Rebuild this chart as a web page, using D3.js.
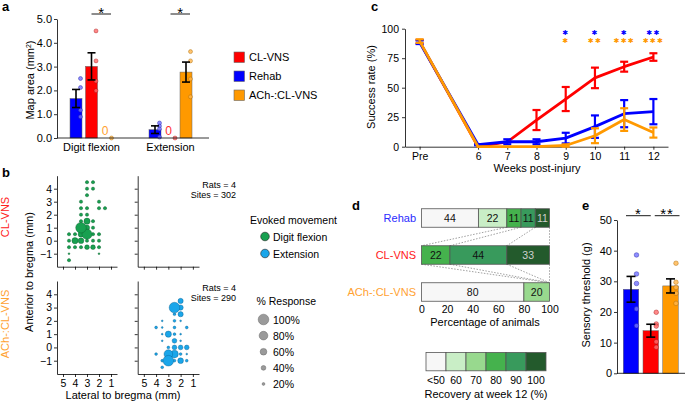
<!DOCTYPE html>
<html><head><meta charset="utf-8">
<script src="https://cdn.jsdelivr.net/npm/d3@7"></script>
<style>
body{margin:0;background:#fff}
svg{font-family:"Liberation Sans",Arial,Helvetica,sans-serif}
</style></head><body>
<svg id="c" width="685" height="402"></svg>
<script>
// ---------------- DATA ----------------
// panel a
const groupsA = ["Digit flexion", "Extension"];
const seriesA = ["Rehab", "CL-VNS", "ACh-:CL-VNS"];
const legendA = ["CL-VNS", "Rehab", "ACh-:CL-VNS"];
const mapMeanRehab = [1.66, 0.35], mapSemRehab = [0.38, 0.16];
const mapMeanClvns = [3.01, 0], mapSemClvns = [0.57, 0];
const mapMeanAch = [0, 2.77], mapSemAch = [0, 0.42];
const mapPtsRehab = [[2.5, 2.12, 1.17, 0.89], [0.63, 0.5, 0.38, 0.04]];
const mapPtsClvns = [[4.5, 3.24, 2.39, 1.99], [0]];
const mapPtsAch = [[0], [3.63, 3.24, 2.48, 1.73]];
const mapTicks = [0, 1, 2, 3, 4, 5];
const mapSig = ["*", "*"];

// panel b  [lateral mm, anterior mm, % response]
const flexClvns = [
  [3.0,4.5,25],[2.5,4.5,25],[3.0,4.0,25],[2.5,4.0,25],[3.0,3.5,25],
  [3.5,3.0,25],[2.0,3.0,25],[3.5,2.5,25],[3.0,2.5,25],[2.0,2.5,25],[1.5,2.5,25],
  [3.5,2.0,25],[3.0,2.0,25],[3.5,1.5,25],[3.0,1.5,55],[2.5,1.5,25],
  [3.5,1.0,100],[3.0,1.0,45],[2.5,1.0,25],
  [4.5,0.5,25],[4.0,0.5,25],[3.5,0.5,50],[3.0,0.5,95],[2.5,0.5,25],[2.0,0.5,25],
  [4.5,0,25],[4.0,0,55],[3.5,0,50],[3.0,0,25],[2.5,0,25],[2.0,0,25],
  [4.5,-0.5,25],[4.0,-0.5,25],[3.5,-0.5,25],[3.0,-0.5,40],[2.5,-0.5,40],[2.0,-0.5,25],
  [4.5,-1,10],[2.0,-1,10],[4.5,-1.5,25]
];
const extAch = [
  [2.0,3.5,45],[2.5,3.0,100],[2.0,3.0,45],[2.5,2.5,20],[2.0,2.5,45],
  [3.5,2.0,10],[2.5,2.0,20],[2.0,2.0,10],
  [4.0,1.5,20],[3.5,1.5,10],[2.5,1.5,20],[1.5,1.5,20],
  [3.5,1.0,10],[3.0,1.0,55],[2.5,1.0,20],[2.0,1.0,10],
  [3.5,0.5,10],[2.5,0.5,40],[2.0,0.5,10],
  [3.0,0,20],[2.5,0,40],[2.0,0,40],[1.5,0,40],
  [4.0,-0.5,20],[3.0,-0.5,80],[2.5,-0.5,70],[2.0,-0.5,20],[1.5,-0.5,10],
  [3.5,-1,20],[3.0,-1,100],[2.5,-1,20],[2.0,-1,50],[1.5,-1,20],
  [3.5,-1.5,20]
];
const latTicks = [5, 4, 3, 2, 1];
const antTicks = [-1, 0, 1, 2, 3, 4];
const respLevels = [100, 80, 60, 40, 20];
const moveTypes = ["Digit flexion", "Extension"];

// panel c
const weekPos = [4, 6, 7, 8, 9, 10, 11, 12];
const weekLabels = ["Pre", "6", "7", "8", "9", "10", "11", "12"];
const sucClvns = [89, 0, 4, 22.6, 40.4, 58.3, 67.8, 76];
const sucClvnsSem = [1.5, 0, 0, 8.5, 10.2, 8.7, 4.2, 3.2];
const sucRehab = [88.5, 1.7, 4.2, 4.2, 7.3, 17, 28, 29.7];
const sucRehabSem = [1.5, 0.5, 2.1, 2.1, 4.5, 9.5, 11.5, 10.7];
const sucAch = [89.5, 0, 0, 0, 1, 9.3, 23, 12];
const sucAchSem = [1.5, 0, 0, 0, 1, 6.3, 9.6, 4.3];
const sucTicks = [0, 25, 50, 75, 100];
const sigRehab = ["", "", "", "", "✱", "✱", "✱", "✱✱"];
const sigAch = ["", "", "", "", "✱", "✱✱", "✱✱✱", "✱✱✱"];

// panel d
const recCats = ["<50", "60", "70", "80", "90", "100"];
const recColors = ["#f7f7f7", "#c9eec6", "#98d98e", "#45b24d", "#389a5c", "#235a2c"];
const recTextColors = ["#111", "#111", "#111", "#111", "#111", "#cfcfcf"];
const groupsD = ["Rehab", "CL-VNS", "ACh-:CL-VNS"];
const pctRehab = [44.4, 22.2, 0, 11.1, 11.1, 11.1];
const pctClvns = [0, 0, 0, 22.2, 44.4, 33.3];
const pctAch = [80, 0, 20, 0, 0, 0];
const pctTicks = [0, 20, 40, 60, 80, 100];
const linkCats = ["80", "90", "100"];

// panel e
const sensGroups = ["Rehab", "CL-VNS", "ACh-:CL-VNS"];
const sensMean = [27.4, 13.9, 28.5];
const sensSem = [4.2, 2.1, 2.3];
const sensPtsRehab = [38.6, 32.4, 29.3, 21, 15.5];
const sensPtsClvns = [19.9, 16.1, 15.4, 10.3, 8.5];
const sensPtsAch = [35.9, 29.7, 28, 26.1, 22.8];
const sensTicks = [0, 10, 20, 30, 40, 50];
const sensSig = ["*", "**"];

// ---------------- STYLE ----------------
const FONT = "'Liberation Sans', Arial, Helvetica, sans-serif";
const col = {"Rehab": "#0000ff", "CL-VNS": "#ff0000", "ACh-:CL-VNS": "#ff9900"};
const dotFill = {"Rehab": "#7070ff", "CL-VNS": "#ff6a6a", "ACh-:CL-VNS": "#ffb44a"};
const dotStroke = {"Rehab": "#1a1aa0", "CL-VNS": "#a01010", "ACh-:CL-VNS": "#a56400"};
const labCol = {"Rehab": "#2b2bff", "CL-VNS": "#ff2020", "ACh-:CL-VNS": "#ffa232"};

const svg = d3.select("#c");
function styleAxis(g, fs) {
  g.selectAll("text").attr("font-size", fs).attr("font-family", FONT).attr("fill", "#000");
  g.selectAll("line,path").attr("stroke", "#000").attr("stroke-width", 0.8);
}
function txt(x, y, s, o = {}) {
  const t = svg.append("text").attr("x", x).attr("y", y).text(s)
    .attr("font-size", o.fs || 11).attr("fill", o.fill || "#000")
    .attr("text-anchor", o.anchor || "start").attr("font-family", o.family || FONT);
  if (o.bold) t.attr("font-weight", "bold");
  if (o.rot) t.attr("transform", `rotate(-90,${x},${y})`);
  return t;
}
function errBar(g, x, y0, y1, cap, color, w) {
  g.append("line").attr("x1", x).attr("x2", x).attr("y1", y0).attr("y2", y1).attr("stroke", color).attr("stroke-width", w);
  [y0, y1].forEach(y => g.append("line").attr("x1", x - cap).attr("x2", x + cap).attr("y1", y).attr("y2", y).attr("stroke", color).attr("stroke-width", w));
}

// panel letters
txt(2, 11, "a", {fs: 13, bold: true});
txt(2, 177, "b", {fs: 13, bold: true});
txt(371, 11, "c", {fs: 13, bold: true});
txt(352, 210, "d", {fs: 13, bold: true});
txt(582, 210, "e", {fs: 13, bold: true});

// ================= PANEL A =================
{
  const yA = d3.scaleLinear().domain([0, 5]).range([138, 19]);
  const xA = d3.scalePoint().domain(groupsA).range([91.5, 170.5]);
  const xIn = d3.scalePoint().domain(seriesA).range([-15.5, 15.5]);
  const bw = 12;
  const means = [mapMeanRehab, mapMeanClvns, mapMeanAch];
  const sems = [mapSemRehab, mapSemClvns, mapSemAch];
  const pts = [mapPtsRehab, mapPtsClvns, mapPtsAch];
  const g = svg.append("g");
  seriesA.forEach((s, si) => {
    groupsA.forEach((grp, gi) => {
      const cx = xA(grp) + xIn(s);
      const m = means[si][gi];
      if (m > 0) {
        g.append("rect").attr("x", cx - bw / 2).attr("y", yA(m)).attr("width", bw).attr("height", yA(0) - yA(m))
          .attr("fill", col[s]).attr("stroke", "#666").attr("stroke-width", 0.5);
      } else {
        txt(cx - 2, 135, "0", {fs: 12, anchor: "middle", fill: s === "ACh-:CL-VNS" ? "#ffa232" : "#ff3030"});
      }
    });
  });
  seriesA.forEach((s, si) => {
    groupsA.forEach((grp, gi) => {
      const cx = xA(grp) + xIn(s) + 4.5;
      pts[si][gi].forEach(v => {
        g.append("circle").attr("cx", cx).attr("cy", yA(v)).attr("r", 2)
          .attr("fill", dotFill[s]).attr("fill-opacity", 0.8).attr("stroke", dotStroke[s]).attr("stroke-width", 0.6).attr("stroke-opacity", 0.7);
      });
    });
  });
  seriesA.forEach((s, si) => {
    groupsA.forEach((grp, gi) => {
      const m = means[si][gi];
      if (m > 0) errBar(g, xA(grp) + xIn(s), yA(m + sems[si][gi]), yA(m - sems[si][gi]), 4, "#000", 1.6);
    });
  });
  const ax = g.append("g").attr("transform", "translate(57,0)")
    .call(d3.axisLeft(yA).tickValues(mapTicks).tickSize(3).tickSizeOuter(0).tickPadding(2));
  styleAxis(ax, 11);
  g.append("line").attr("x1", 57).attr("x2", 209).attr("y1", yA(0)).attr("y2", yA(0)).attr("stroke", "#000").attr("stroke-width", 0.8);
  groupsA.forEach((grp, gi) => {
    txt(xA(grp), 151, grp, {fs: 11, anchor: "middle"});
    const x1 = xA(grp) + xIn("CL-VNS"), x2 = xA(grp) + xIn("ACh-:CL-VNS") + 4;
    g.append("line").attr("x1", x1).attr("x2", x2).attr("y1", 14).attr("y2", 14).attr("stroke", "#000").attr("stroke-width", 0.9);
    txt((x1 + x2) / 2, 17.5, mapSig[gi], {fs: 15, anchor: "middle"});
  });
  const yl = txt(34, 80, "Map area (mm", {fs: 11, anchor: "middle", rot: true});
  yl.append("tspan").attr("baseline-shift", "super").attr("font-size", 7).text("2");
  yl.append("tspan").text(")");
  const ly = d3.scalePoint().domain(legendA).range([52, 90]);
  legendA.forEach(s => {
    g.append("rect").attr("x", 234).attr("y", ly(s)).attr("width", 10.5).attr("height", 10.5)
      .attr("fill", col[s]).attr("stroke", "#666").attr("stroke-width", 0.6);
    txt(249, ly(s) + 9, s, {fs: 11});
  });
}

// ================= PANEL B =================
{
  const rScale = d3.scaleLinear().domain([0, 100]).range([0.4, 5.3]);
  const plots = [
    {x: [57, 117], y: [266.7, 175.7], data: flexClvns, fill: "#18a050", stroke: "#0a5a2a", xl: false, yl: true},
    {x: [137.7, 199], y: [266.7, 175.7], data: [], xl: false, yl: false},
    {x: [57, 117], y: [374, 281], data: [], xl: true, yl: true},
    {x: [137.7, 199], y: [374, 281], data: extAch, fill: "#1aa6ea", stroke: "#0b5c88", xl: true, yl: false}
  ];
  plots.forEach(p => {
    const xs = d3.scaleLinear().domain([5.5, 0.5]).range(p.x);
    const ys = d3.scaleLinear().domain([-2, 5]).range(p.y);
    const g = svg.append("g");
    const ax = g.append("g").attr("transform", `translate(0,${p.y[0]})`)
      .call(d3.axisBottom(xs).tickValues(latTicks).tickSize(3).tickSizeOuter(0).tickPadding(3)
        .tickFormat(p.xl ? d3.format("d") : () => ""));
    styleAxis(ax, 10.5);
    const ay = g.append("g").attr("transform", `translate(${p.x[0]},0)`)
      .call(d3.axisLeft(ys).tickValues(antTicks).tickSize(3).tickSizeOuter(0).tickPadding(2)
        .tickFormat(p.yl ? d3.format("d") : () => ""));
    styleAxis(ay, 10.5);
    g.selectAll("circle.d").data(p.data.slice().sort((a, b) => a[2] - b[2])).join("circle")
      .attr("cx", d => xs(d[0])).attr("cy", d => ys(d[1])).attr("r", d => rScale(d[2]))
      .attr("fill", p.fill).attr("stroke", p.stroke).attr("stroke-width", 0.4);
  });
  txt(236, 188, "Rats = 4", {fs: 9, anchor: "end"});
  txt(236, 198, "Sites = 302", {fs: 9, anchor: "end"});
  txt(236, 291, "Rats = 4", {fs: 9, anchor: "end"});
  txt(236, 301, "Sites = 290", {fs: 9, anchor: "end"});
  txt(9, 217, "CL-VNS", {fs: 11, anchor: "middle", rot: true, fill: "#ff2020"});
  txt(9, 324, "ACh-:CL-VNS", {fs: 11, anchor: "middle", rot: true, fill: "#ffa232"});
  txt(33, 272, "Anterior to bregma (mm)", {fs: 11, anchor: "middle", rot: true});
  txt(123, 399, "Lateral to bregma (mm)", {fs: 11, anchor: "middle"});
  txt(250, 224, "Evoked movement", {fs: 10.5});
  const mcol = ["#18a050", "#1aa6ea"];
  const my = d3.scalePoint().domain(moveTypes).range([236.5, 253.5]);
  moveTypes.forEach((m, i) => {
    svg.append("circle").attr("cx", 265).attr("cy", my(m)).attr("r", 4.3).attr("fill", mcol[i]).attr("stroke", "#222").attr("stroke-width", 0.6);
    txt(273, my(m) + 4, m, {fs: 10.5});
  });
  txt(256.5, 305, "% Response", {fs: 10.5});
  const ry = d3.scalePoint().domain(respLevels).range([319.5, 384]);
  respLevels.forEach(r => {
    svg.append("circle").attr("cx", 263.5).attr("cy", ry(r)).attr("r", rScale(r)).attr("fill", "#9a9a9a").attr("stroke", "#666").attr("stroke-width", 0.5);
    txt(273, ry(r) + 4, r + "%", {fs: 10.5});
  });
}

// ================= PANEL C =================
{
  const xC = d3.scaleLinear().domain([3.5, 12.5]).range([405, 668]);
  const yC = d3.scaleLinear().domain([0, 100]).range([146.7, 28.7]);
  const g = svg.append("g");
  const ax = g.append("g").attr("transform", `translate(0,${yC(0)})`)
    .call(d3.axisBottom(xC).tickValues(weekPos).tickFormat((d, i) => weekLabels[i]).tickSize(3).tickSizeOuter(0).tickPadding(3));
  styleAxis(ax, 10.5);
  const ay = g.append("g").attr("transform", `translate(405,0)`)
    .call(d3.axisLeft(yC).tickValues(sucTicks).tickSize(3).tickSizeOuter(0).tickPadding(3));
  styleAxis(ay, 10.5);
  const series = [
    {k: "CL-VNS", v: sucClvns, e: sucClvnsSem},
    {k: "Rehab", v: sucRehab, e: sucRehabSem},
    {k: "ACh-:CL-VNS", v: sucAch, e: sucAchSem}
  ];
  const line = d3.line().x((d, i) => xC(weekPos[i])).y(d => yC(d));
  series.forEach(s => {
    const gs = g.append("g");
    gs.append("path").datum(s.v).attr("d", line).attr("fill", "none").attr("stroke", col[s.k]).attr("stroke-width", 2.8).attr("stroke-linejoin", "round");
    s.v.forEach((v, i) => {
      if (s.e[i] > 0) errBar(gs, xC(weekPos[i]), yC(v + s.e[i]), yC(v - s.e[i]), 4, col[s.k], 2.2);
    });
  });
  // significance stars (compact heavy asterisks, two coloured rows)
  const SF = "'DejaVu Sans', sans-serif";
  weekPos.forEach((w, i) => {
    if (sigRehab[i]) txt(xC(w), 34.5, sigRehab[i], {fs: 7, anchor: "middle", fill: "#0000ff", family: SF}).attr("letter-spacing", 1.2);
    if (sigAch[i]) txt(xC(w), 42.6, sigAch[i], {fs: 7, anchor: "middle", fill: "#ff9900", family: SF}).attr("letter-spacing", 1.2);
  });
  txt(375, 87, "Success rate (%)", {fs: 11, anchor: "middle", rot: true});
  txt(537, 172, "Weeks post-injury", {fs: 11, anchor: "middle"});
}

// ================= PANEL D =================
{
  const xD = d3.scaleLinear().domain([0, 100]).range([421.5, 549.5]);
  const yD = d3.scalePoint().domain(groupsD).range([218, 292]);
  const bh = 18.5;
  const rows = [pctRehab, pctClvns, pctAch];
  const g = svg.append("g");
  const cums = rows.map(r => {
    const tot = d3.sum(r);
    let c = 0;
    return r.map(v => { const a = c; c += v; return [a / tot * 100, c / tot * 100]; });
  });
  for (let ri = 0; ri < rows.length - 1; ri++) {
    const a = cums[ri], b = cums[ri + 1];
    const pairs = linkCats.map(k => { const ci = recCats.indexOf(k); return [a[ci][0], b[ci][0]]; }).concat([[100, 100]]);
    pairs.forEach(p => {
      g.append("line").attr("x1", xD(p[0])).attr("y1", yD(groupsD[ri]) + bh / 2)
        .attr("x2", xD(p[1])).attr("y2", yD(groupsD[ri + 1]) - bh / 2)
        .attr("stroke", "#888").attr("stroke-width", 0.8).attr("stroke-dasharray", "1.5,1.5");
    });
  }
  rows.forEach((r, ri) => {
    const gy = yD(groupsD[ri]);
    r.forEach((v, ci) => {
      if (v <= 0) return;
      const [a, b] = cums[ri][ci];
      g.append("rect").attr("x", xD(a)).attr("y", gy - bh / 2).attr("width", xD(b) - xD(a)).attr("height", bh)
        .attr("fill", recColors[ci]).attr("stroke", "#555").attr("stroke-width", 0.8);
      txt((xD(a) + xD(b)) / 2, gy + 3.8, Math.round(v), {fs: 10.5, anchor: "middle", fill: recTextColors[ci]});
    });
    txt(416, gy + 4, groupsD[ri], {fs: 11, anchor: "end", fill: labCol[groupsD[ri]]});
  });
  const ax = g.append("g").attr("transform", `translate(0,302)`)
    .call(d3.axisBottom(xD).tickValues(pctTicks).tickSize(0).tickPadding(4));
  styleAxis(ax, 10.5);
  ax.select(".domain").remove();
  txt(485, 326, "Percentage of animals", {fs: 11, anchor: "middle"});
  const xL = d3.scaleBand().domain(recCats).range([426, 546]);
  recCats.forEach((c, i) => {
    g.append("rect").attr("x", xL(c)).attr("y", 352.5).attr("width", xL.bandwidth()).attr("height", 18.3)
      .attr("fill", recColors[i]).attr("stroke", "#555").attr("stroke-width", 0.8);
    txt(xL(c) + xL.bandwidth() / 2, 384, c, {fs: 10.5, anchor: "middle"});
  });
  txt(486, 397.5, "Recovery at week 12 (%)", {fs: 11, anchor: "middle"});
}

// ================= PANEL E =================
{
  const yE = d3.scaleLinear().domain([0, 50]).range([373.3, 220]);
  const xE = d3.scalePoint().domain(sensGroups).range([631, 670.5]);
  const bw = 15.5;
  const pts = [sensPtsRehab, sensPtsClvns, sensPtsAch];
  const g = svg.append("g");
  sensGroups.forEach((s, i) => {
    g.append("rect").attr("x", xE(s) - bw / 2).attr("y", yE(sensMean[i])).attr("width", bw).attr("height", yE(0) - yE(sensMean[i]))
      .attr("fill", col[s]).attr("stroke", "#666").attr("stroke-width", 0.5);
  });
  sensGroups.forEach((s, i) => {
    pts[i].forEach(v => {
      g.append("circle").attr("cx", xE(s) + 5.5).attr("cy", yE(v)).attr("r", 2.3)
        .attr("fill", dotFill[s]).attr("fill-opacity", 0.8).attr("stroke", dotStroke[s]).attr("stroke-width", 0.6).attr("stroke-opacity", 0.7);
    });
  });
  sensGroups.forEach((s, i) => {
    errBar(g, xE(s), yE(sensMean[i] + sensSem[i]), yE(sensMean[i] - sensSem[i]), 4.5, "#000", 1.6);
  });
  const ay = g.append("g").attr("transform", `translate(617,0)`)
    .call(d3.axisLeft(yE).tickValues(sensTicks).tickSize(3).tickSizeOuter(0).tickPadding(2));
  styleAxis(ay, 11);
  g.append("line").attr("x1", 617).attr("x2", 685).attr("y1", yE(0)).attr("y2", yE(0)).attr("stroke", "#000").attr("stroke-width", 0.8);
  const br = [[xE("Rehab") - 5, xE("CL-VNS")], [xE("CL-VNS") + 4, xE("ACh-:CL-VNS") + 9]];
  br.forEach((b, i) => {
    g.append("line").attr("x1", b[0]).attr("x2", b[1]).attr("y1", 215.7).attr("y2", 215.7).attr("stroke", "#000").attr("stroke-width", 0.9);
    txt((b[0] + b[1]) / 2, 218.5, sensSig[i], {fs: 15, anchor: "middle"}).attr("letter-spacing", 1);
  });
  txt(590, 295, "Sensory threshold (g)", {fs: 11, anchor: "middle", rot: true});
}
</script>
</body></html>
